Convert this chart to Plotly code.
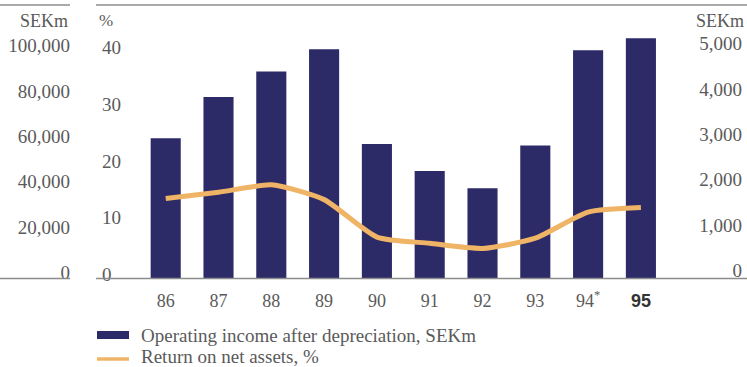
import plotly.graph_objects as go

# ---- data ----
years = ["86", "87", "88", "89", "90", "91", "92", "93", "94", "95"]
year_labels = ["86", "87", "88", "89", "90", "91", "92", "93", "94<sup>*</sup>",
               "<span style='font-family:Liberation Sans;font-weight:bold;fill:#333'>95</span>"]
operating_income = [3090, 4000, 4560, 5050, 2960, 2370, 1990, 2930, 5030, 5290]  # SEKm
return_on_net_assets = [14.1, 15.2, 16.5, 13.9, 7.3, 6.2, 5.3, 7.1, 11.7, 12.5]  # %
right_ticks = [0, 1000, 2000, 3000, 4000, 5000]
pct_ticks = [0, 10, 20, 30, 40]
left_ticks = [0, 20000, 40000, 60000, 80000, 100000]
legend_labels = ["Operating income after depreciation, SEKm", "Return on net assets, %"]

W, H = 747, 367
BAR_COLOR = "#2d2a68"
LINE_COLOR = "#f0b466"
TEXT = "#5a5a5a"
RULE = "#8c8c8c"
SERIF = "Liberation Serif"

Y_BASE, Y_TOP, Y_BOT = 278.5, 5.0, 300.0
SPAN = 227.0


def fy(p):
    return (H - p) / H


def fx(p):
    return p / W


def rng(vmax):
    k = SPAN / vmax
    return [-(Y_BOT - Y_BASE) / k, (Y_BASE - Y_TOP) / k]


fig = go.Figure()
fig.add_trace(go.Bar(x=years, y=operating_income, marker_color=BAR_COLOR,
                     marker_line_width=0, yaxis="y", showlegend=False))
fig.add_trace(go.Scatter(x=years, y=return_on_net_assets, mode="lines",
                         line=dict(color=LINE_COLOR, width=5, shape="spline", smoothing=0.6),
                         yaxis="y2", showlegend=False))
fig.add_trace(go.Scatter(x=[], y=[], yaxis="y3", showlegend=False))

dom = [fy(Y_BOT), fy(Y_TOP)]
tickfont = dict(family=SERIF, size=19, color=TEXT)

fig.update_layout(
    width=W, height=H,
    margin=dict(l=0, r=0, t=0, b=0),
    paper_bgcolor="white", plot_bgcolor="rgba(0,0,0,0)",
    bargap=0.43,
    xaxis=dict(domain=[fx(139.3), fx(667.3)], range=[-0.5, 9.5], anchor="free",
               position=fy(Y_BASE), tickvals=years, ticktext=year_labels,
               showline=False, ticks="", showgrid=False, zeroline=False,
               tickfont=dict(family=SERIF, size=18, color=TEXT), ticklabelstandoff=9),
    yaxis=dict(domain=dom, range=rng(5000), side="right", anchor="free", position=1.0,
               tickvals=right_ticks, tickformat=",", ticklabelposition="inside",
               ticklabelshift=-8, ticklabelstandoff=2,
               showgrid=False, zeroline=False, showline=False, ticks="", tickfont=tickfont),
    yaxis2=dict(domain=dom, range=rng(40), overlaying="y", side="left", anchor="free",
                position=fx(97), tickvals=pct_ticks, ticklabelposition="inside",
                ticklabelshift=-4, ticklabelstandoff=1,
                showgrid=False, zeroline=False, showline=False, ticks="", tickfont=tickfont),
    yaxis3=dict(domain=dom, range=rng(100000), overlaying="y", side="left", anchor="free",
                position=fx(71), tickvals=left_ticks, tickformat=",",
                ticklabelshift=-6, ticklabelstandoff=1,
                showgrid=False, zeroline=False, showline=False, ticks="", tickfont=tickfont),
)

shapes = []
for yy in (Y_TOP, Y_BASE):
    shapes.append(dict(type="line", xref="paper", yref="paper", x0=0, x1=fx(70),
                       y0=fy(yy), y1=fy(yy), line=dict(color=RULE, width=1.5)))
    shapes.append(dict(type="line", xref="paper", yref="paper", x0=fx(96), x1=1,
                       y0=fy(yy), y1=fy(yy), line=dict(color=RULE, width=1.5)))
# legend swatches
shapes.append(dict(type="rect", xref="paper", yref="paper", x0=fx(97), x1=fx(129),
                   y0=fy(339), y1=fy(331), fillcolor=BAR_COLOR, line_width=0))
shapes.append(dict(type="line", xref="paper", yref="paper", x0=fx(97), x1=fx(129),
                   y0=fy(359), y1=fy(359), line=dict(color=LINE_COLOR, width=3.5)))
fig.update_layout(shapes=shapes)

ann = [
    dict(text="SEKm", x=fx(70), y=fy(21), xanchor="right", yanchor="middle", size=18),
    dict(text="%", x=fx(97), y=fy(21), xanchor="left", yanchor="middle", size=17),
    dict(text="SEKm", x=fx(746), y=fy(21), xanchor="right", yanchor="middle", size=18),
    dict(text=legend_labels[0], x=fx(139), y=fy(335), xanchor="left", yanchor="middle", size=19),
    dict(text=legend_labels[1], x=fx(139), y=fy(356), xanchor="left", yanchor="middle", size=19),
]
for a in ann:
    s = a.pop("size")
    a.update(xref="paper", yref="paper", showarrow=False,
             font=dict(family=SERIF, size=s, color=TEXT))
fig.update_layout(annotations=ann)

fig.write_html("out.html")
